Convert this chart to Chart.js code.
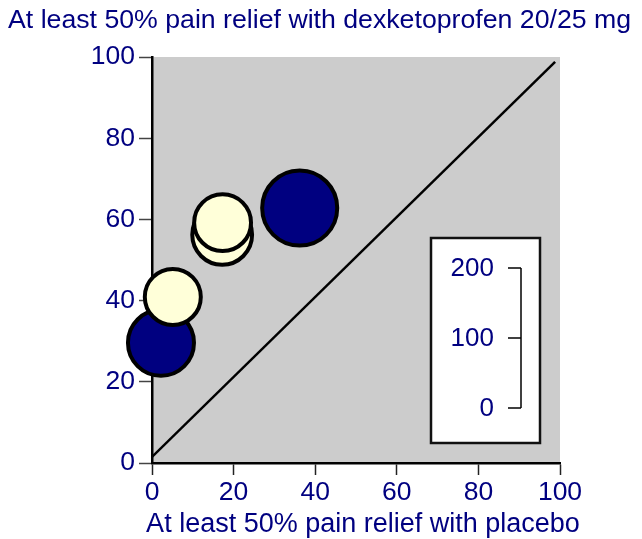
<!DOCTYPE html>
<html>
<head>
<meta charset="utf-8">
<script src="https://cdn.jsdelivr.net/npm/chart.js@4.4.0/dist/chart.umd.min.js"></script>
<style>
html, body { margin: 0; padding: 0; background: #fff; }
#wrap { width: 642px; height: 539px; }
</style>
</head>
<body>
<div id="wrap"><canvas id="chart" width="642" height="539"></canvas></div>
<script>
// 数据 (百分比, 每个试验)
const navyPlacebo = [36.2, 2.2];
const navyDrug = [62.8, 29.6];
const navyPatients = [115, 89];

const yellowPlacebo = [17.2, 5.1, 17.3];
const yellowDrug = [56.2, 40.9, 59.2];
const yellowPatients = [73, 64, 66];

const diagonalX = [0, 98.8];
const diagonalY = [1.5, 98.8];

const axisTicks = [0, 20, 40, 60, 80, 100];
const sizeLegendTicks = [0, 100, 200];

const titleText = 'At least 50% pain relief with dexketoprofen 20/25 mg';
const xTitleText = 'At least 50% pain relief with placebo';

const NAVY = '#000080';
const CREAM = '#FFFFD9';
const FONT = '"Liberation Sans", Arial, Helvetica, sans-serif';
const R_PER_SQRT = 3.5;

Chart.defaults.font.family = FONT;

function toBubbles(xs, ys, ns) {
    return xs.map((x, i) => ({ x: x, y: ys[i], r: Math.sqrt(ns[i]) * R_PER_SQRT }));
}

// 背景、标题、气泡大小图例
const decorPlugin = {
    id: 'decor',
    beforeDraw(chart) {
        const { ctx, chartArea: a } = chart;
        ctx.save();
        ctx.fillStyle = '#cccccc';
        ctx.fillRect(a.left, a.top, a.right - a.left, a.bottom - a.top);
        ctx.restore();
    },
    afterDraw(chart) {
        const ctx = chart.ctx;
        ctx.save();
        ctx.fillStyle = NAVY;
        ctx.font = '26.7px ' + FONT;
        ctx.textAlign = 'left';
        ctx.textBaseline = 'alphabetic';
        ctx.fillText(titleText, 8, 28);

        // x 轴标题
        ctx.font = '27px ' + FONT;
        ctx.textAlign = 'center';
        ctx.fillText(xTitleText, 363, 532);

        // 气泡大小图例框
        const bx = 431, by = 238, bw = 109, bh = 205;
        ctx.fillStyle = '#fff';
        ctx.fillRect(bx, by, bw, bh);
        ctx.strokeStyle = '#111';
        ctx.lineWidth = 2.5;
        ctx.strokeRect(bx, by, bw, bh);

        const top = 268, bottom = 408, maxV = sizeLegendTicks[sizeLegendTicks.length - 1];
        ctx.strokeStyle = '#000';
        ctx.lineWidth = 1.5;
        ctx.beginPath();
        ctx.moveTo(521, top);
        ctx.lineTo(521, bottom);
        ctx.stroke();
        ctx.font = '26px ' + FONT;
        ctx.textAlign = 'right';
        ctx.textBaseline = 'middle';
        sizeLegendTicks.forEach(v => {
            const y = bottom - v / maxV * (bottom - top);
            ctx.beginPath();
            ctx.moveTo(508, y);
            ctx.lineTo(521, y);
            ctx.stroke();
            ctx.fillStyle = NAVY;
            ctx.fillText(String(v), 494, y + 1);
        });
        ctx.restore();
    }
};

new Chart(document.getElementById('chart'), {
    type: 'bubble',
    data: {
        datasets: [{
            label: 'cream',
            data: toBubbles(yellowPlacebo, yellowDrug, yellowPatients),
            backgroundColor: CREAM,
            borderColor: '#000',
            borderWidth: 4,
            clip: false
        }, {
            label: 'navy',
            data: toBubbles(navyPlacebo, navyDrug, navyPatients),
            backgroundColor: NAVY,
            borderColor: '#000',
            borderWidth: 4,
            clip: false
        }, {
            type: 'line',
            label: 'equality',
            data: diagonalX.map((x, i) => ({ x: x, y: diagonalY[i] })),
            borderColor: '#000',
            borderWidth: 2.5,
            pointRadius: 0,
            fill: false
        }]
    },
    options: {
        responsive: false,
        animation: false,
        layout: { padding: { top: 57, right: 82, left: 0, bottom: 0 } },
        plugins: {
            legend: { display: false },
            tooltip: { enabled: false }
        },
        scales: {
            x: {
                type: 'linear',
                min: 0,
                max: 100,
                afterBuildTicks: s => { s.ticks = axisTicks.map(v => ({ value: v })); },
                afterFit: s => { s.height = 76; },
                ticks: { color: NAVY, font: { size: 26.5 }, padding: 2, maxRotation: 0 },
                grid: { drawOnChartArea: false, tickLength: 12, tickColor: '#222', tickWidth: 1.5 },
                border: { color: '#000', width: 2.5 }
            },
            y: {
                type: 'linear',
                min: 0,
                max: 100,
                afterBuildTicks: s => { s.ticks = axisTicks.map(v => ({ value: v })); },
                afterFit: s => { s.width = 152; },
                ticks: { color: NAVY, font: { size: 26.5 }, padding: 4 },
                grid: { drawOnChartArea: false, tickLength: 13, tickColor: '#444', tickWidth: 1.5 },
                border: { color: '#000', width: 2.5 }
            }
        }
    },
    plugins: [decorPlugin]
});
</script>
</body>
</html>
